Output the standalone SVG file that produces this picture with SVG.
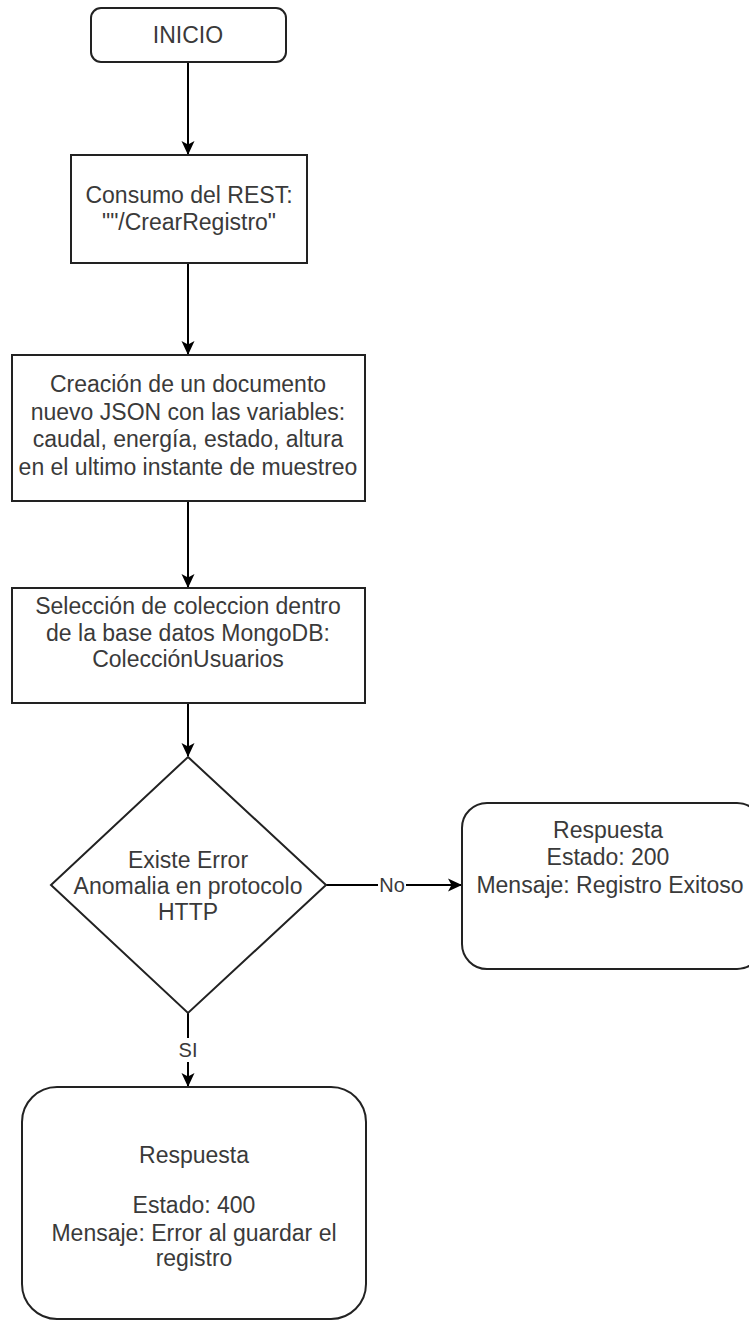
<svg xmlns="http://www.w3.org/2000/svg" width="749" height="1323" viewBox="0 0 749 1323">
  <defs>
    <marker id="arrow" viewBox="0 0 14 14" refX="13" refY="7" markerWidth="14" markerHeight="14" markerUnits="userSpaceOnUse" orient="auto">
      <path d="M0,0.5 L14,7 L0,13.5 L3.5,7 Z" fill="#000"/>
    </marker>
    <style>
      .shape { fill: #fff; stroke: #222; stroke-width: 2; }
      .edge { fill: none; stroke: #000; stroke-width: 2; }
      text { font-family: "Liberation Sans", Arial, sans-serif; font-size: 23px; fill: #3a3a3a; text-anchor: middle; }
      .lbl { font-size: 20px; }
    </style>
  </defs>
  <rect width="749" height="1323" fill="#fff"/>

  <!-- connectors -->
  <g id="connectors">
    <line class="edge" x1="188" y1="62" x2="188" y2="154" marker-end="url(#arrow)"/>
    <line class="edge" x1="188" y1="263" x2="188" y2="354" marker-end="url(#arrow)"/>
    <line class="edge" x1="188" y1="501" x2="188" y2="587" marker-end="url(#arrow)"/>
    <line class="edge" x1="188" y1="703" x2="188" y2="756" marker-end="url(#arrow)"/>
    <line class="edge" x1="326" y1="885" x2="461" y2="885" marker-end="url(#arrow)"/>
    <line class="edge" x1="188" y1="1013" x2="188" y2="1086" marker-end="url(#arrow)"/>
    <rect x="378" y="873" width="28" height="24" fill="#fff"/>
    <text class="lbl" x="392" y="892">No</text>
    <rect x="176" y="1038" width="24" height="24" fill="#fff"/>
    <text class="lbl" x="188" y="1057">SI</text>
  </g>

  <g id="inicio">
    <rect class="shape" x="91" y="8" width="195" height="54" rx="10"/>
    <text x="188" y="43">INICIO</text>
  </g>

  <g id="consumo-rest">
    <rect class="shape" x="71" y="155" width="236" height="108"/>
    <text x="189" y="203">Consumo del REST:</text>
    <text x="189" y="230">""/CrearRegistro"</text>
  </g>

  <g id="crear-documento">
    <rect class="shape" x="12" y="355" width="353" height="146"/>
    <text x="188" y="392">Creación de un documento</text>
    <text x="188" y="420">nuevo JSON con las variables:</text>
    <text x="188" y="447">caudal, energía, estado, altura</text>
    <text x="188" y="475">en el ultimo instante de muestreo</text>
  </g>

  <g id="seleccion-coleccion">
    <rect class="shape" x="12" y="588" width="353" height="115"/>
    <text x="188" y="614">Selección de coleccion dentro</text>
    <text x="188" y="641">de la base datos MongoDB:</text>
    <text x="188" y="667">ColecciónUsuarios</text>
  </g>

  <g id="decision-error">
    <polygon class="shape" points="188,757 326,885 188,1013 51,885"/>
    <text x="188" y="868">Existe Error</text>
    <text x="188" y="894">Anomalia en protocolo</text>
    <text x="188" y="920">HTTP</text>
  </g>

  <g id="respuesta-ok">
    <rect class="shape" x="462" y="803" width="300" height="166" rx="25"/>
    <text x="608" y="838">Respuesta</text>
    <text x="608" y="865">Estado: 200</text>
    <text x="610" y="893">Mensaje: Registro Exitoso</text>
  </g>

  <g id="respuesta-error">
    <rect class="shape" x="22" y="1087" width="344" height="232" rx="35"/>
    <text x="194" y="1163">Respuesta</text>
    <text x="194" y="1213">Estado: 400</text>
    <text x="194" y="1241">Mensaje: Error al guardar el</text>
    <text x="194" y="1266">registro</text>
  </g>
</svg>
